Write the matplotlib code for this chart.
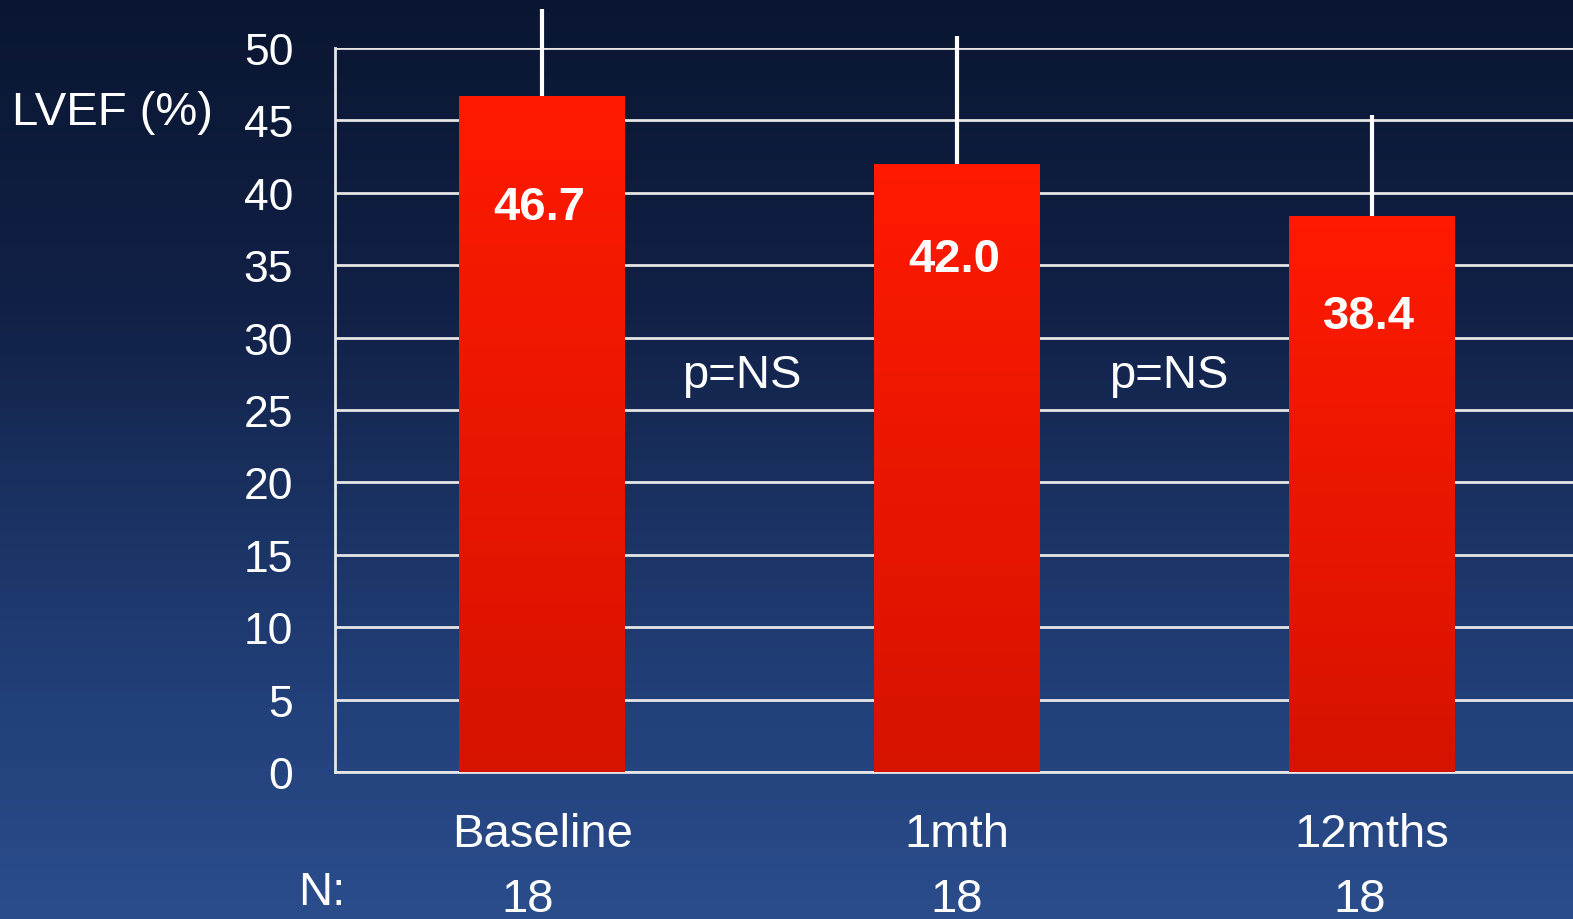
import numpy as np
import matplotlib
matplotlib.use("Agg")
import matplotlib.pyplot as plt
from matplotlib.colors import LinearSegmentedColormap

plt.rcParams['font.family'] = ['Liberation Sans', 'DejaVu Sans']

# Data
categories = ["Baseline", "1mth", "12mths"]
lvef_mean = [46.7, 42.0, 38.4]
lvef_sd = [6.0, 8.8, 7.0]
n_patients = [18, 18, 18]
y_ticks = [0, 5, 10, 15, 20, 25, 30, 35, 40, 45, 50]
p_labels = ["p=NS", "p=NS"]

W, H, DPI = 1573, 920, 100
fig = plt.figure(figsize=(W / DPI, H / DPI), dpi=DPI)

# Vertical navy background gradient over the whole figure
bg = fig.add_axes([0, 0, 1, 1], zorder=-10)
bg_cmap = LinearSegmentedColormap.from_list(
    "bg", [(0.0, "#0a1631"), (0.33, "#112046"), (0.55, "#1a3262"),
           (0.77, "#22407a"), (1.0, "#2b4d8c")])
bg.imshow(np.linspace(0, 1, 256).reshape(-1, 1), aspect="auto", cmap=bg_cmap,
          extent=[0, 1, 0, 1], origin="upper")
bg.set_axis_off()

ax = fig.add_axes([335 / W, 1 - 773 / H, 1244 / W, (773 - 49) / H])
ax.patch.set_alpha(0)

x = np.arange(len(categories))
bar_w = 0.4
bars = ax.bar(x, lvef_mean, width=bar_w, color="#f01800", zorder=3)

# Red vertical gradient inside each bar
bar_cmap = LinearSegmentedColormap.from_list("bar", ["#d61200", "#ff1a00"])
grad = np.linspace(0, 1, 256).reshape(-1, 1)
for b in bars:
    x0, w, h = b.get_x(), b.get_width(), b.get_height()
    im = ax.imshow(grad, aspect="auto", cmap=bar_cmap, origin="lower",
                   extent=[x0, x0 + w, 0, h], zorder=3.5)
    im.set_clip_path(b)

# Upper-only error bars, allowed to run past the top of the axes
ax.errorbar(x, lvef_mean, yerr=[np.zeros(len(x)), lvef_sd], fmt="none",
            ecolor="white", elinewidth=3, capsize=0, zorder=2, clip_on=False)

# Value labels inside bars (offset below each bar top, in pixels)
label_drop = [111, 95, 100]
for xi, v, d in zip(x, lvef_mean, label_drop):
    ax.annotate(f"{v:.1f}", xy=(xi, v), xycoords="data", xytext=(-3, -d),
                textcoords="offset pixels", ha="center", va="center",
                color="white", fontsize=34, fontweight="bold", zorder=5)

# Significance labels between bars
p_pos = [0.48, 1.51]
for px, lab in zip(p_pos, p_labels):
    ax.text(px, 27.4, lab, ha="center", va="center",
            color="white", fontsize=34, zorder=5)

ax.set_xlim(-0.5, 2.5)
ax.set_ylim(0, 50)
ax.set_yticks(y_ticks)
ax.set_yticklabels([str(t) for t in y_ticks])
ax.set_xticks([])
ax.tick_params(axis="y", length=0, pad=30, labelsize=32, labelcolor="white")
ax.grid(axis="y", color="#e6e6e6", linewidth=2, zorder=1)
ax.set_axisbelow(True)
for s in ["top", "right"]:
    ax.spines[s].set_visible(False)
for s in ["left", "bottom"]:
    ax.spines[s].set_color("#e6e6e6")
    ax.spines[s].set_linewidth(2)

# Axis title to the left of the ticks
fig.text(12 / W, 1 - 113 / H, "LVEF (%)", ha="left", va="center",
         color="white", fontsize=34)

# Category labels and patient counts beneath the axis
for xi, cat in zip(x, categories):
    ax.annotate(cat, xy=(xi, 0), xycoords="data", xytext=(0, -62),
                textcoords="offset pixels", ha="center", va="center",
                color="white", fontsize=34, annotation_clip=False)
n_shift = [-15, 0, -12]
for xi, n, dx in zip(x, n_patients, n_shift):
    ax.annotate(str(n), xy=(xi, 0), xycoords="data", xytext=(dx, -127),
                textcoords="offset pixels", ha="center", va="center",
                color="white", fontsize=34, annotation_clip=False)
fig.text(322 / W, 1 - 893 / H, "N:", ha="center", va="center",
         color="white", fontsize=34)

fig.savefig("out.png", dpi=DPI)
